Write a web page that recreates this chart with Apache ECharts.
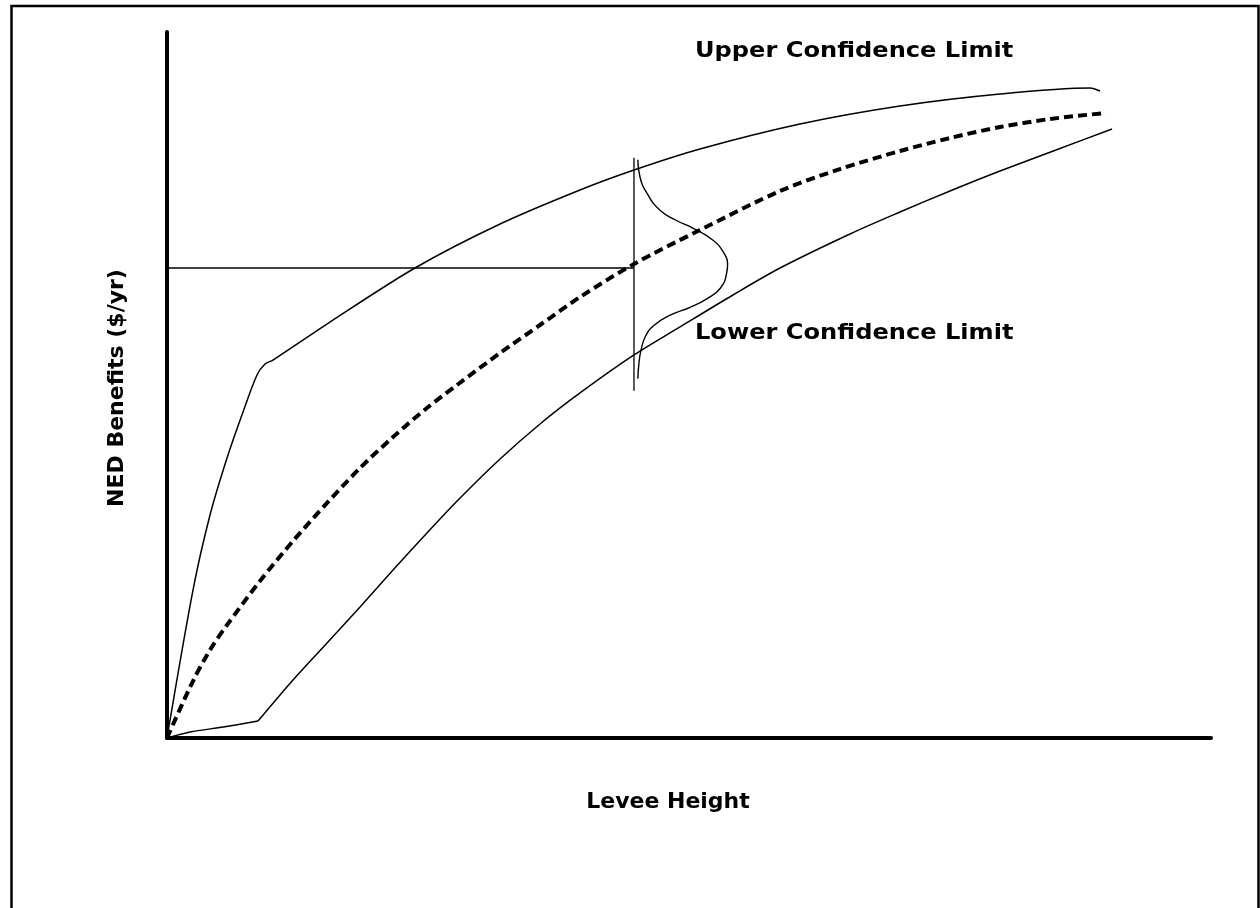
<!DOCTYPE html>
<html>
<head>
<meta charset="utf-8">
<title>NED Benefits vs Levee Height</title>
<script src="https://cdn.jsdelivr.net/npm/echarts@6/dist/echarts.min.js"></script>
<style>
  html, body { margin: 0; padding: 0; background: #ffffff; }
  #chart { width: 1260px; height: 908px; }
</style>
</head>
<body>
<div id="chart"></div>
<script>
// Expected NED benefits (dashed) with upper and lower confidence limits,
// on an arbitrary 0-100 scale for levee height (x) and benefits (y).
const upperLimit = [
  [0, 0], [2.49, 20.96], [4.12, 31.59], [5.75, 39.66], [7.28, 46.18],
  [8.62, 51.42], [9.39, 52.97], [10.15, 53.54], [15.61, 58.92],
  [23.75, 66.57], [31.90, 72.80], [39.56, 77.62], [44.73, 80.45],
  [51.05, 83.43], [60.63, 86.97], [70.21, 89.52], [79.79, 91.22],
  [88.41, 92.07], [89.37, 91.64]
];
const expectedBenefits = [
  [0, 0], [2.49, 8.07], [4.12, 12.46], [5.75, 16.01], [8.91, 22.24],
  [12.07, 27.90], [15.33, 33.29], [18.49, 38.24], [21.65, 42.63],
  [24.90, 46.74], [27.78, 50.0], [31.90, 54.53], [35.73, 58.50],
  [39.56, 62.46], [44.73, 67.14], [51.05, 71.95], [58.72, 77.48],
  [64.46, 80.59], [70.21, 83.14], [75.0, 84.99], [79.79, 86.54],
  [84.58, 87.68], [89.94, 88.53]
];
// Lower limit: shallow start, then a steady concave rise
const lowerKnee = [[0, 0], [2.2, 0.85], [5.4, 1.56], [8.72, 2.41]];
const lowerLimit = [
  [8.72, 2.41], [12.07, 8.22], [15.33, 13.46], [18.49, 18.56],
  [21.65, 23.80], [24.90, 29.04], [28.07, 33.99], [31.90, 39.52],
  [35.73, 44.48], [39.56, 48.87], [44.73, 54.25], [49.14, 58.22],
  [54.21, 62.75], [58.72, 66.57], [65.42, 71.39], [70.21, 74.50],
  [75.0, 77.48], [79.79, 80.31], [85.15, 83.29], [90.52, 86.26]
];
// Selected levee height and the benefit read across to the axis
const designHeight = 44.73;
const designBenefit = 66.57;
const designRange = [49.2, 82.2];
// Uncertainty distribution of benefits at the selected height
const distribution = [
  [45.1, 81.9], [45.3, 79.5], [46.0, 77.1], [47.2, 74.8], [48.8, 73.3],
  [50.4, 72.2], [52.3, 70.5], [53.3, 68.8], [53.7, 67.2], [53.6, 65.8],
  [53.0, 63.7], [51.7, 62.2], [50.1, 61.0], [48.2, 59.9], [46.6, 58.4],
  [45.8, 56.8], [45.4, 54.9], [45.2, 53.0], [45.1, 50.9]
];
const labels = {
  upper: 'Upper Confidence Limit',
  lower: 'Lower Confidence Limit',
  xTitle: 'Levee Height',
  yTitle: 'NED Benefits ($/yr)'
};

const chart = echarts.init(document.getElementById('chart'), null, { renderer: 'canvas' });

const thin = { color: '#000', width: 1.5 };
const textStyle = {
  fill: '#000',
  fontFamily: 'DejaVu Sans',
  fontWeight: 'bold',
  fontSize: 22
};
const curve = (name, data, extra) => Object.assign({
  name: name, type: 'line', data: data,
  smooth: 0.3, symbol: 'none', lineStyle: thin
}, extra || {});

chart.setOption({
  animation: false,
  backgroundColor: '#ffffff',
  grid: { left: 167, top: 32, right: 49, bottom: 170 },
  xAxis: {
    type: 'value', min: 0, max: 100,
    axisLine: { show: true, lineStyle: { color: '#000', width: 4 } },
    axisTick: { show: false }, axisLabel: { show: false }, splitLine: { show: false }
  },
  yAxis: {
    type: 'value', min: 0, max: 100,
    axisLine: { show: true, lineStyle: { color: '#000', width: 4 } },
    axisTick: { show: false }, axisLabel: { show: false }, splitLine: { show: false }
  },
  series: [
    curve('Upper Confidence Limit', upperLimit),
    curve('Lower Confidence Limit (start)', lowerKnee),
    curve('Lower Confidence Limit', lowerLimit),
    curve('Expected Benefits', expectedBenefits, {
      lineStyle: { color: '#000', width: 4, type: [9, 5], cap: 'butt' }
    }),
    {
      name: 'Selected height', type: 'line',
      data: [[designHeight, designRange[0]], [designHeight, designRange[1]]],
      symbol: 'none', lineStyle: { color: '#000', width: 1.3 }
    },
    {
      name: 'Expected benefit', type: 'line',
      data: [[0, designBenefit], [designHeight, designBenefit]],
      symbol: 'none', lineStyle: { color: '#000', width: 1.3 }
    },
    curve('Benefit distribution', distribution, {
      smooth: 0.5, lineStyle: { color: '#000', width: 1.4 }
    })
  ],
  graphic: [
    {
      type: 'rect', silent: true,
      shape: { x: 11.5, y: 6, width: 1247, height: 930 },
      style: { fill: 'none', stroke: '#000', lineWidth: 2.5 }
    },
    {
      type: 'text', x: 695, y: 40, scaleX: 1.096,
      style: Object.assign({ text: labels.upper }, textStyle)
    },
    {
      type: 'text', x: 695, y: 322, scaleX: 1.096,
      style: Object.assign({ text: labels.lower }, textStyle)
    },
    {
      type: 'text', x: 668, y: 802,
      style: Object.assign({ text: labels.xTitle, align: 'center', verticalAlign: 'middle' }, textStyle)
    },
    {
      type: 'text', x: 117, y: 388, rotation: Math.PI / 2,
      style: Object.assign({ text: labels.yTitle, align: 'center', verticalAlign: 'middle' }, textStyle)
    }
  ]
});
</script>
</body>
</html>
